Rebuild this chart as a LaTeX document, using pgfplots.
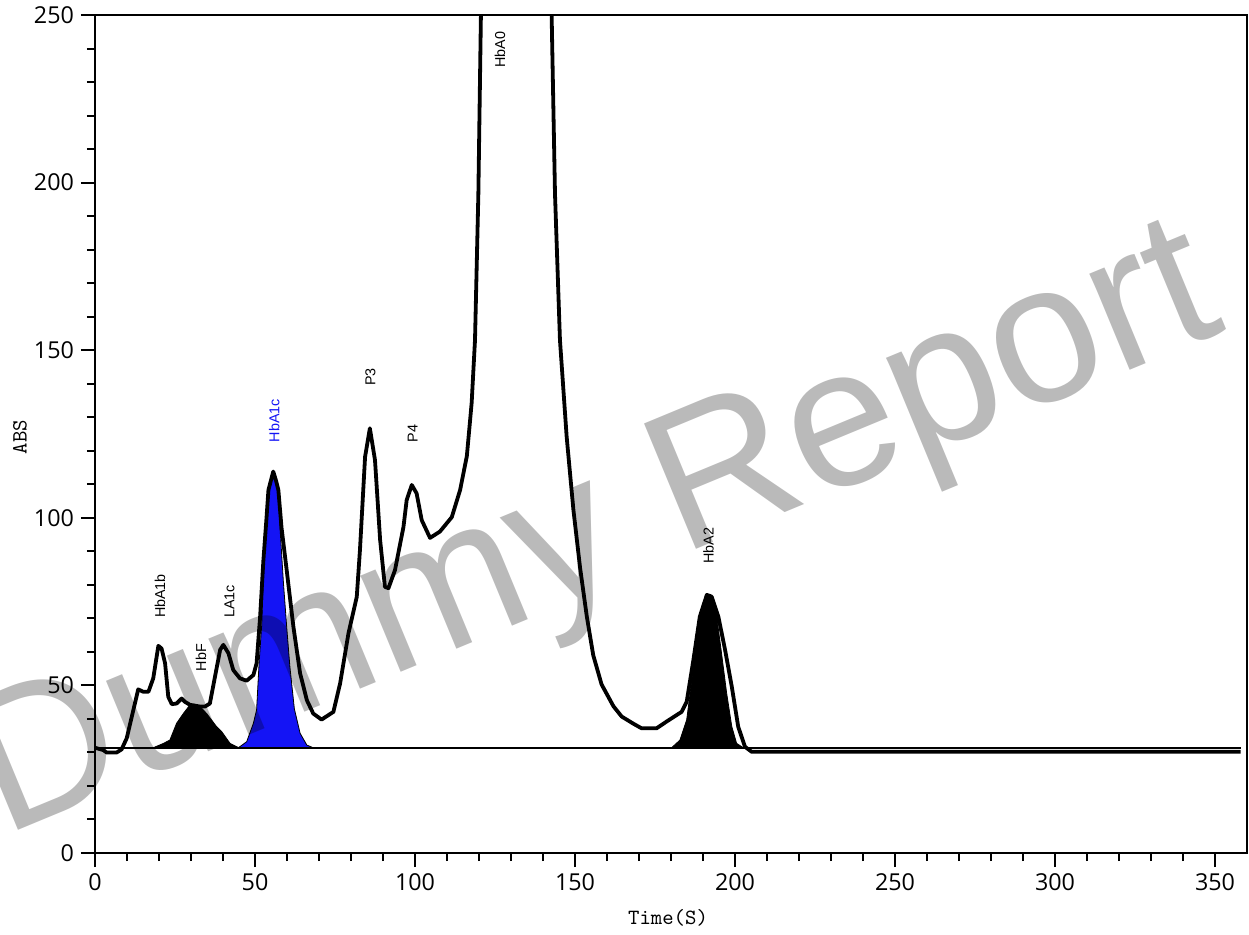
\documentclass[border=0pt]{standalone}
\usepackage{fontspec}
\usepackage{pgfplots}
\pgfplotsset{compat=1.18}
\newfontfamily\ticfont{Open Sans}
\newfontfamily\pkfont{Liberation Sans}
\definecolor{hbblue}{HTML}{1414F5}
\tikzset{
  pk/.style={rotate=90,anchor=west,inner sep=0pt,font=\pkfont\fontsize{7.2}{8}\selectfont},
}
\begin{document}
\begin{tikzpicture}
\begin{axis}[
  at={(0,0)}, anchor=south west,
  scale only axis, width=576bp, height=419bp,
  xmin=0, xmax=360, ymin=0, ymax=250,
  xtick={0,50,...,350}, ytick={0,50,...,250},
  minor x tick num=4, minor y tick num=4,
  tick pos=left, tick align=outside,
  major tick length=7bp, minor tick length=4bp,
  every tick/.style={black,line width=1bp},
  axis line style={line width=1bp},
  tick label style={font=\ticfont\fontsize{11.7}{14}\selectfont},
  /pgf/number format/assume math mode=true,
  xlabel={Time(S)}, ylabel={ABS},
  label style={font=\ttfamily\fontsize{10.9}{12}\selectfont},
  xlabel style={at={(axis description cs:0.4974,-0.0776)},anchor=center},
  ylabel style={at={(axis description cs:-0.0651,0.4964)},anchor=center},
]
% HbF
\addplot[fill=black,draw=black,line width=0.4bp] coordinates {
  (18.2,31.4) (21.4,32.7) (23.4,33.7) (25.5,38.7) (27.6,41.6) (29.7,44.2)
  (31.25,44.4) (32.8,43.7) (34.9,41.6) (38,37.7) (39.6,36.2) (42.2,32.7)
  (44.3,31.7) (45,31.4)};
% HbA1c
\addplot[fill=hbblue,draw=black,line width=0.4bp] coordinates {
  (44.8,31.4) (47.4,33.2) (49.5,38.7) (50.5,42.7) (51.3,57) (52.1,68)
  (52.8,87) (53.6,100) (54.3,108.5) (55.7,113.8) (56.6,111) (57.3,108.3)
  (57.8,97.3) (58.9,80.4) (59.9,67.5) (60.9,55.6) (62.3,43) (64.1,35.7)
  (66.2,32.2) (68.2,31.4)};
% HbA2
\addplot[fill=black,draw=black,line width=0.4bp] coordinates {
  (180.2,31.4) (182.8,33.7) (184.9,39.7) (186.5,51.6) (188,63.5) (189.6,73.5)
  (191.2,77.3) (192.7,76.5) (194.3,70.5) (195.8,59.5) (197.4,47.6) (199,37.7)
  (200.5,32.7) (202.6,31.4)};
% baseline
\addplot[black,line width=0.9bp] coordinates {(0,31.4) (358,31.4)};
% chromatogram
\addplot[black,line width=1.9bp,line join=round] coordinates {
  (0,31.4) (2.6,30.7) (3.6,30.0) (6.8,30.0) (8.3,30.9) (9.9,34.2) (12,42.7)
  (13.5,48.8) (15.1,48.1) (16.7,48.1) (18.2,52.1) (19.8,61.8) (20.8,61.0)
  (21.9,56.6) (22.9,46.6) (24,44.4) (25.5,44.6) (27.1,46.1) (28.1,45.1)
  (29.7,44.2) (32.8,43.7) (34.4,43.7) (35.9,44.6) (37.5,52.6) (39.1,60.6)
  (40.1,62.1) (41.7,59.6) (43.2,54.6) (45.3,52.1) (47.4,51.4) (49.5,53.1)
  (50.5,56.6) (51.6,70.5) (52.6,87) (53.6,100) (54.2,108.3) (55.7,113.8)
  (56.6,111) (57.3,108.3) (58.3,97) (59.9,84.4) (62,67.5) (64.1,53.6)
  (66.2,45.6) (68.2,41.6) (70.8,39.8) (74.5,42.1) (76.6,50.6) (79.2,65.5)
  (81.8,76.4) (82.8,90.4) (84.4,118.2) (85.9,126.7) (87.5,117.2) (89.1,93.4)
  (90.6,79.4) (91.7,79.0) (93.75,84.4) (96.4,97.3) (97.4,105.3) (99,109.8)
  (100.5,107.3) (102.1,99.3) (104.7,94.0) (107.8,95.9) (111.5,100.2)
  (114.1,108.3) (116.2,118.4) (117.7,134.2) (118.75,153.0) (119.8,196.6)
  (120.6,250) (121.5,320) (131,420) (141.5,320)
  (142.7,250) (143.75,196.6) (145.3,153) (147.4,124.1) (149.5,102.4)
  (151.6,85.0) (153.7,70.5) (155.7,59.0) (158.3,50.3) (162,43.8) (164.6,40.7)
  (168.2,38.6) (170.8,37.2) (175.5,37.2) (178.6,39.2) (183.3,42.1) (184.9,45.1)
  (187,57.6) (189,70.5) (191.2,77.0) (192.7,76.5) (194.8,70.5) (196.9,60.6)
  (199,49.6) (201,37.7) (203.1,31.7) (205.2,30.2) (358,30.2)};
\node[pk] at (axis cs:20.3,70.0) {HbA1b};
\node[pk] at (axis cs:33.1,54.1) {HbF};
\node[pk] at (axis cs:42.0,70.0) {LA1c};
\node[pk,text=hbblue] at (axis cs:56.0,122.4) {HbA1c};
\node[pk] at (axis cs:86.1,139.3) {P3};
\node[pk] at (axis cs:99.3,122.4) {P4};
\node[pk] at (axis cs:126.6,234.1) {HbA0};
\node[pk] at (axis cs:191.7,86.2) {HbA2};
\end{axis}
% watermark
\node[rotate=22.5,anchor=base west,inner sep=0pt,text=black,text opacity=0.27,
  font=\pkfont\fontsize{99}{99}\selectfont] at (-46bp,8bp) {Dummy Report};
\pgfresetboundingbox
\path[use as bounding box] (-47.5bp,-41bp) rectangle (577bp,426.5bp);
\end{tikzpicture}
\end{document}
